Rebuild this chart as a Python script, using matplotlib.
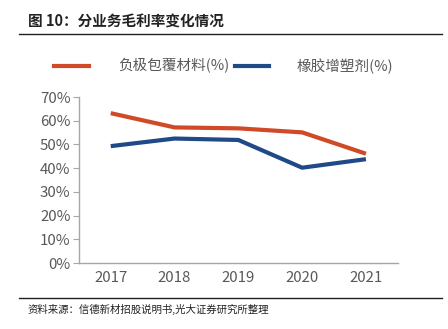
import matplotlib.pyplot as plt
from matplotlib.lines import Line2D

plt.rcParams['font.family'] = ['Noto Sans CJK SC', 'DejaVu Sans']

# 数据
years = ["2017", "2018", "2019", "2020", "2021"]
fujicailiao = [63.2, 57.2, 56.8, 55.1, 46.1]
xiangjiao = [49.3, 52.5, 51.9, 40.2, 43.8]

orange = "#D04A28"
blue = "#1F4A87"
gray = "#595959"

fig = plt.figure(figsize=(4.48, 3.29), dpi=100)
ax = fig.add_axes([0.176, 0.2006, 0.712, 0.5044])

x = range(len(years))
ax.plot(x, [v / 100 for v in fujicailiao], color=orange, lw=3, solid_capstyle="butt")
ax.plot(x, [v / 100 for v in xiangjiao], color=blue, lw=3, solid_capstyle="butt")

ax.set_xlim(-0.5, 4.5)
ax.set_ylim(0, 0.7)
ax.set_xticks(list(x))
ax.set_xticklabels(years)
ax.set_yticks([i / 10 for i in range(8)])
ax.set_yticklabels([f"{i * 10}%" for i in range(8)])
ax.tick_params(axis="x", length=0, labelsize=10.8, colors=gray, pad=6)
ax.tick_params(axis="y", length=4, width=0.8, labelsize=10.8, colors="#A6A6A6",
               labelcolor=gray, pad=2)
for s in ["top", "right"]:
    ax.spines[s].set_visible(False)
for s in ["left", "bottom"]:
    ax.spines[s].set_color("#A6A6A6")
    ax.spines[s].set_linewidth(1)

# 图例
fig.add_artist(Line2D([54 / 448, 89 / 448], [1 - 66 / 329] * 2, color=orange, lw=3,
                      transform=fig.transFigure))
fig.text(118 / 448, 1 - 66 / 329, "负极包覆材料(%)", color=gray, fontsize=10.5, va="center")
fig.add_artist(Line2D([235 / 448, 269 / 448], [1 - 66 / 329] * 2, color=blue, lw=3,
                      transform=fig.transFigure))
fig.text(297 / 448, 1 - 66 / 329, "橡胶增塑剂(%)", color=gray, fontsize=10.5, va="center")

# 标题和来源
fig.text(28 / 448, 1 - 22 / 329, "图 10：分业务毛利率变化情况", fontsize=10.5,
         fontweight="bold", va="center", color="#222222")
fig.add_artist(Line2D([19 / 448, 442 / 448], [1 - 34 / 329] * 2, color="#222222", lw=1,
                      transform=fig.transFigure))
fig.add_artist(Line2D([19 / 448, 442 / 448], [1 - 298 / 329] * 2, color="#222222", lw=1,
                      transform=fig.transFigure))
fig.text(28 / 448, 1 - 309 / 329, "资料来源：信德新材招股说明书,光大证券研究所整理", fontsize=7.5,
         va="center", color="#222222")

fig.savefig("out.png", dpi=100)
